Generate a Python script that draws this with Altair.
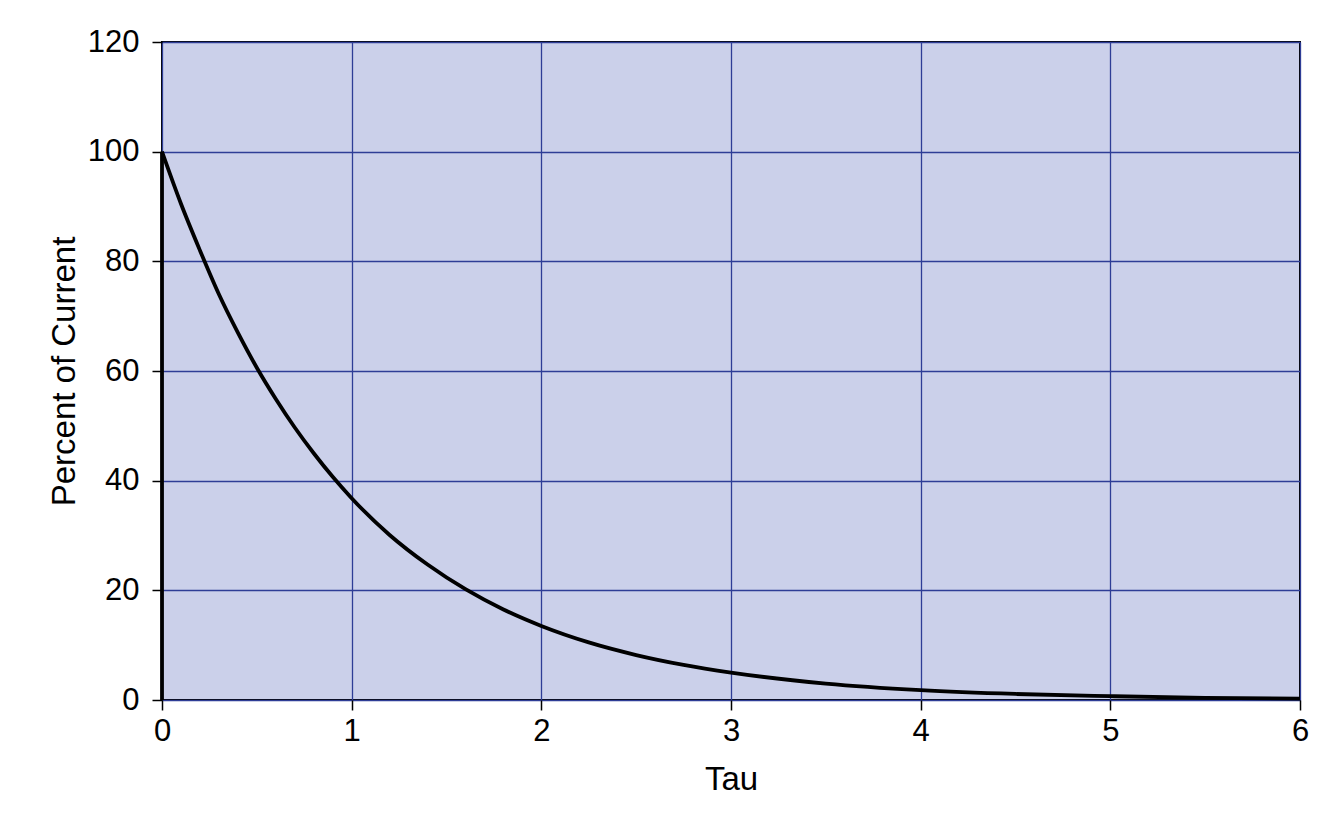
import altair as alt
import pandas as pd

tau = [0.0, 0.0, 0.1, 0.2, 0.3, 0.4, 0.5, 0.6, 0.7, 0.8, 0.9, 1.0, 1.2, 1.4, 1.6, 1.8,
       2.0, 2.25, 2.5, 2.75, 3.0, 3.5, 4.0, 4.5, 5.0, 5.5, 6.0]
percent = [0.0, 100.0, 90.5, 82.0, 74.0, 67.0, 60.6, 54.9, 49.7, 45.0, 40.7, 36.8, 30.1,
           24.7, 20.2, 16.5, 13.5, 10.5, 8.2, 6.4, 5.0, 3.0, 1.8, 1.1, 0.7, 0.4, 0.25]

df = pd.DataFrame({"tau": tau, "pct": percent, "i": list(range(len(tau)))})
rise = df.iloc[:2]
decay = df.iloc[1:]

x_enc = alt.X("tau:Q", title="Tau",
              scale=alt.Scale(domain=[0, 6], nice=False),
              axis=alt.Axis(values=[0, 1, 2, 3, 4, 5, 6], format="d",
                            labelPadding=6, titlePadding=17))
y_enc = alt.Y("pct:Q", title="Percent of Current",
              scale=alt.Scale(domain=[0, 120], nice=False),
              axis=alt.Axis(values=[0, 20, 40, 60, 80, 100, 120], format="d",
                            labelPadding=13, titlePadding=6))

rise_line = alt.Chart(rise).mark_line(color="black", strokeWidth=3.8, clip=False).encode(
    x=x_enc, y=y_enc, order="i:Q")
decay_line = alt.Chart(decay).mark_line(color="black", strokeWidth=3.8, clip=False,
                                        interpolate="monotone", strokeJoin="round").encode(
    x=x_enc, y=y_enc, order="i:Q")

chart = alt.layer(rise_line, decay_line).properties(
    width=1138, height=658,
    autosize=alt.AutoSizeParams(type="none"),
    padding={"left": 154, "top": 34, "right": 26, "bottom": 100},
    background="white",
).configure_view(
    fill="#cbd0ea", stroke="black", strokeWidth=2,
).configure_axis(
    labelFont="Liberation Sans", titleFont="Liberation Sans",
    labelFontSize=31, titleFontSize=33, titleFontWeight="normal",
    labelColor="black", titleColor="black",
    labelFlush=False, labelOverlap=False,
    gridColor="#2e3d96", gridWidth=1.3, gridOpacity=1,
    domain=False,
    tickColor="black", tickSize=10, tickWidth=1.5,
)

chart.save("out.html", embed_options={"renderer": "svg", "actions": False})
